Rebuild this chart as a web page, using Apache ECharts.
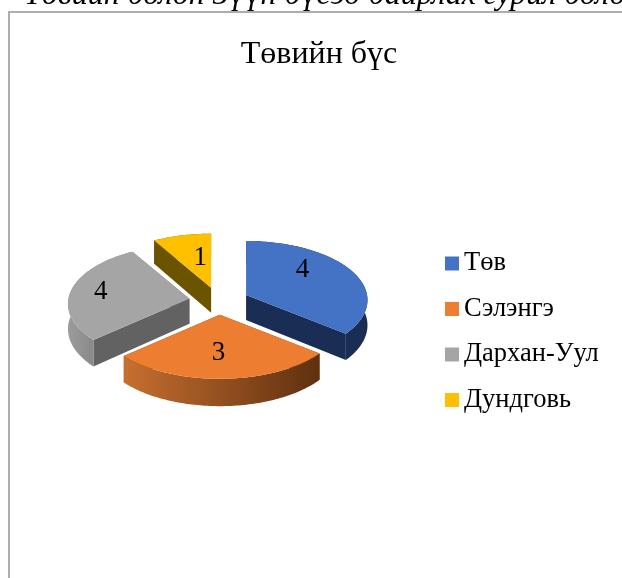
<!DOCTYPE html>
<html>
<head>
<meta charset="utf-8">
<style>html,body{margin:0;padding:0;background:#fff;overflow:hidden}#c{width:622px;height:578px}</style>
<script src="https://cdn.jsdelivr.net/npm/echarts@6/dist/echarts.min.js"></script>
</head>
<body>
<div id="c"></div>
<script>
// Data (slices are sized from these; labels show them rounded)
const categories = ['Төв', 'Сэлэнгэ', 'Дархан-Уул', 'Дундговь'];
const sliceValues = [4.45, 3.45, 3.5, 1.05];
const chartTitle = 'Төвийн бүс';
const captionText = 'Төвийн болон Зүүн бүсэд байрлах гурил боло';

// Styles
const topColors = ['#4472c4', '#ed7d31', '#a5a5a5', '#ffc000'];
const faceColors = ['#1a2d54', '#6a3512', '#626262', '#6b5400'];
const sideStops = [
  ['#1a2d54', '#1a2d54'],
  ['#c76f30', '#5f300f'],
  ['#9c9c9c', '#6c6c6c'],
  ['#6b5400', '#6b5400']
];
const drawOrder = [3, 2, 0, 1];   // back to front
const labelNudge = [[-9, -10], [-3, 3], [-17, -1], [8, 4]];

// View of the tilted disc
const view = { cx: 219, cy: 301, rx: 121, ry: 58.6, tilt: 0.46, explode: 30, depth: 25, persp: 0.085, labelR: 0.6 };

const total = sliceValues.reduce((a, b) => a + b, 0);
const starts = [];
sliceValues.reduce((acc, v, i) => { starts[i] = acc; return acc + v; }, 0);
const toAngle = v => v / total * Math.PI * 2;

function renderSlice(params, api) {
  const i = drawOrder[params.seriesIndex];
  const value = api.value(0);
  const a0 = toAngle(starts[i]);
  const a1 = a0 + toAngle(value);
  const mid = (a0 + a1) / 2;
  const ax = view.cx + view.explode * Math.sin(mid);
  const ay = view.cy - view.explode * Math.cos(mid) * view.tilt;

  const pt = (t, drop) => {
    const u = Math.sin(t), v = -Math.cos(t);
    const s = 1 / (1 - view.persp * v);
    return [ax + u * view.rx * s, ay + v * view.ry * s + drop * s];
  };
  const arc = drop => {
    const out = [];
    const n = Math.max(8, Math.ceil((a1 - a0) / 0.02));
    for (let k = 0; k <= n; k++) out.push(pt(a0 + (a1 - a0) * k / n, drop));
    return out;
  };
  const topArc = arc(0), lowArc = arc(view.depth);
  const apexTop = [ax, ay], apexLow = [ax, ay + view.depth];

  const sideFill = new echarts.graphic.LinearGradient(0, 0, 1, 0, [
    { offset: 0, color: sideStops[i][0] },
    { offset: 1, color: sideStops[i][1] }
  ]);

  const poly = (points, fill) => ({ type: 'polygon', shape: { points }, style: { fill }, silent: true });
  const lab = [
    ax + view.labelR * view.rx * Math.sin(mid) + labelNudge[i][0],
    ay - view.labelR * view.ry * Math.cos(mid) + labelNudge[i][1]
  ];
  return {
    type: 'group',
    children: [
      poly([apexTop, topArc[0], lowArc[0], apexLow], faceColors[i]),
      poly([apexTop, topArc[topArc.length - 1], lowArc[lowArc.length - 1], apexLow], faceColors[i]),
      poly(topArc.concat(lowArc.slice().reverse()), sideFill),
      poly([apexTop].concat(topArc), topColors[i]),
      { type: 'text', z2: 10, silent: true, style: {
          x: lab[0], y: lab[1], text: String(Math.round(value)),
          fill: '#000', font: '27px "Liberation Serif"', align: 'center', verticalAlign: 'middle'
      } }
    ]
  };
}

const chart = echarts.init(document.getElementById('c'), null, { renderer: 'canvas', width: 622, height: 578 });
chart.setOption({
  animation: false,
  backgroundColor: '#ffffff',
  graphic: [{
    type: 'rect', silent: true, z: -1,
    shape: { x: 9, y: 12, width: 800, height: 800 },
    style: { fill: '#fff', stroke: '#aeaeae', lineWidth: 2 }
  }],
  title: [
    { text: chartTitle, left: 319, top: 39, textAlign: 'center', padding: 0,
      textStyle: { fontFamily: 'Liberation Serif', fontWeight: 'normal', fontSize: 32, color: '#000' } },
    { text: captionText, left: 24, top: -20, padding: 0,
      textStyle: { fontFamily: 'Liberation Serif', fontStyle: 'italic', fontWeight: 'normal', fontSize: 32, color: '#000' } }
  ],
  legend: {
    orient: 'vertical', left: 445, top: 250,
    data: categories, padding: 0, selectedMode: false,
    icon: 'rect', itemWidth: 14, itemHeight: 14, itemGap: 18.5,
    textStyle: { fontFamily: 'Liberation Serif', fontSize: 26.5, color: '#000', lineHeight: 26.5 }
  },
  series: drawOrder.map(i => ({
    type: 'custom',
    name: categories[i],
    coordinateSystem: 'none',
    itemStyle: { color: topColors[i] },
    renderItem: renderSlice,
    data: [[sliceValues[i]]]
  }))
});
</script>
</body>
</html>
